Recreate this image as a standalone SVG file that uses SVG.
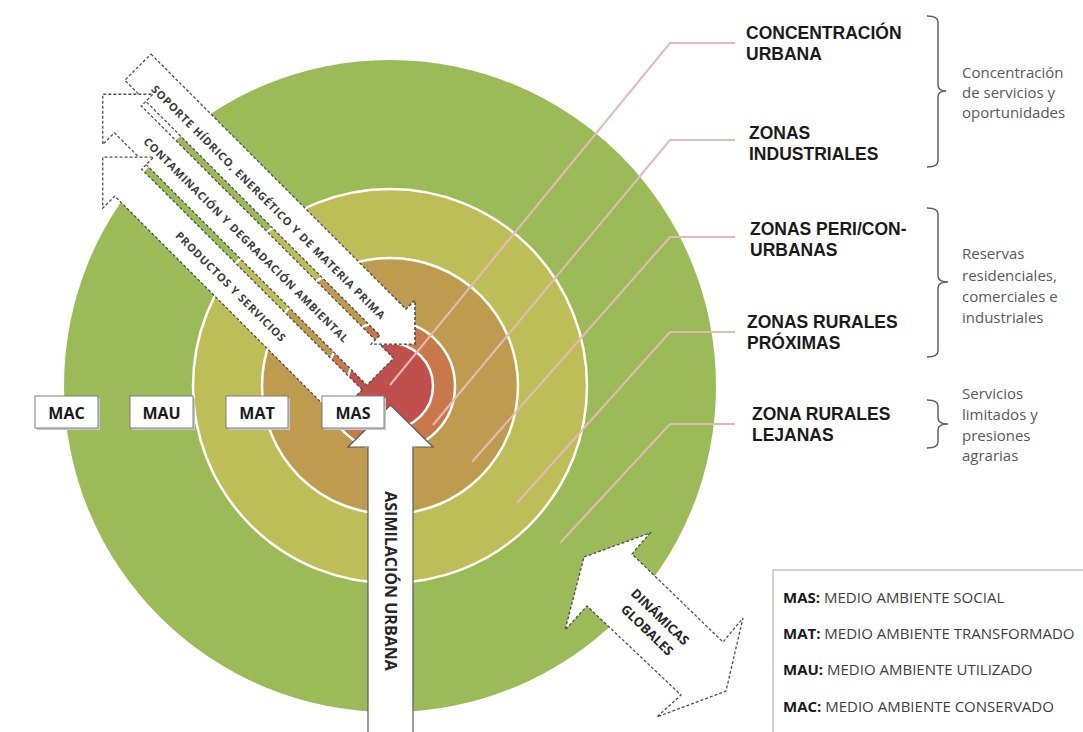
<svg xmlns="http://www.w3.org/2000/svg" width="1083" height="732" viewBox="0 0 1083 732">
<style>
text{font-family:'Open Sans','Liberation Sans',sans-serif}
.lbl{font-family:'Liberation Sans',Arial,sans-serif;font-weight:700;font-size:17.5px;fill:#1a1a1a}
.desc{font-size:15px;fill:#595959}
.bx{fill:#fff;stroke:#7f7f7f;stroke-width:1}
.bxs{fill:#c8c8c8}
.bxt{font-weight:700;font-size:16px;fill:#1a1a1a;text-anchor:middle}
.arr{fill:#fff;stroke:#505050;stroke-width:1.3;stroke-dasharray:3 2;stroke-linejoin:miter}
.atxt{font-weight:700;font-size:11px;fill:#3a3a3a;text-anchor:middle}
.lead{fill:none;stroke:#E6B9B8;stroke-width:2}
.brk{fill:none;stroke:#595959;stroke-width:1.4}
.leg{font-size:15px;fill:#404040}
.legb{font-weight:700;fill:#1a1a1a}
.ring{stroke:#fff;stroke-width:2.5}
</style>

<g id="zones">
  <circle cx="390" cy="386" r="326" fill="#9BBB59"/>
  <circle class="ring" cx="390" cy="386" r="197" fill="#BEBE58"/>
  <circle class="ring" cx="390" cy="386" r="128" fill="#BF9B50"/>
  <circle class="ring" cx="390" cy="386" r="65" fill="#C8784B"/>
  <circle class="ring" cx="390" cy="386" r="43" fill="#C0504D"/>
</g>

<g id="connectors">
  <polyline class="lead" points="390,385 670,43 735,43"/>
  <polyline class="lead" points="433,425 670,140 735,140"/>
  <polyline class="lead" points="472,462 670,237 735,237"/>
  <polyline class="lead" points="517,503 670,332 735,332"/>
  <polyline class="lead" points="560,543 670,424 735,424"/>
</g>

<g id="flows" transform="rotate(45)">
  <g id="flow-soporte">
    <polygon class="arr" points="145,-68.5 505.7,-68.5 505.7,-81 536.7,-50 505.7,-19 505.7,-31.5 145,-31.5"/>
  </g>
  <g id="flow-contaminacion">
    <polygon class="arr" points="531.7,-25 174.8,-25 174.8,-41.5 139.3,-6 174.8,29.5 174.8,13 531.7,13"/>
    <text class="atxt" x="343.6" y="-0.3" textLength="284" lengthAdjust="spacing">CONTAMINACIÓN Y DEGRADACIÓN AMBIENTAL</text>
  </g>
  <g id="flow-productos">
    <polygon class="arr" points="531.7,19.5 219.8,19.5 219.8,2.5 183.8,38.5 219.8,74.5 219.8,57.5 531.7,57.5"/>
    <text class="atxt" x="365.5" y="43.5" textLength="150" lengthAdjust="spacing">PRODUCTOS Y SERVICIOS</text>
  </g>
  <g id="flow-soporte-head">
    <polygon points="490,-68.5 505.7,-68.5 505.7,-81 536.7,-50 505.7,-19 505.7,-31.5 490,-31.5" fill="#fff"/>
    <path class="arr" d="M490,-68.5 H505.7 V-81 L536.7,-50 L505.7,-19 V-31.5 H490" style="fill:none"/>
    <text class="atxt" x="332.5" y="-42.8" textLength="325" lengthAdjust="spacing">SOPORTE HÍDRICO, ENERGÉTICO Y DE MATERIA PRIMA</text>
  </g>
</g>

<g id="asimilacion">
  <polygon points="368,740 368,447 348,447 390.5,405 433,447 413,447 413,740" fill="#fff" stroke="#595959" stroke-width="1.2"/>
  <text transform="translate(390.5,581) rotate(90)" y="5.5" style="font-weight:700;font-size:16px;fill:#262626;text-anchor:middle">ASIMILACIÓN URBANA</text>
</g>

<g id="dinamicas">
  <polygon class="arr" points="584,557 650,533 632,554 723,642 743,618 726,691 657,717 681,695 587,606 565,630"/>
  <text transform="translate(654,623) rotate(44)" style="font-weight:700;font-size:13px;fill:#262626;text-anchor:middle"><tspan x="0" y="-4">DINÁMICAS</tspan><tspan x="0" y="14.4">GLOBALES</tspan></text>
</g>

<g id="box-mac"><rect class="bxs" x="37" y="398" width="63" height="32"/><rect class="bx" x="35" y="396" width="63" height="32"/><text class="bxt" x="66.5" y="418.5">MAC</text></g>
<g id="box-mau"><rect class="bxs" x="132" y="398" width="63" height="32"/><rect class="bx" x="130" y="396" width="63" height="32"/><text class="bxt" x="161.5" y="418.5">MAU</text></g>
<g id="box-mat"><rect class="bxs" x="228" y="398" width="62" height="32"/><rect class="bx" x="226" y="396" width="62" height="32"/><text class="bxt" x="257" y="418.5">MAT</text></g>
<g id="box-mas"><rect class="bxs" x="324" y="398" width="62" height="32"/><rect class="bx" x="322" y="396" width="62" height="32"/><text class="bxt" x="353" y="418.5">MAS</text></g>

<g id="label-concentracion"><text class="lbl"><tspan x="746" y="39">CONCENTRACIÓN</tspan><tspan x="746" y="60">URBANA</tspan></text></g>
<g id="label-industriales"><text class="lbl"><tspan x="749" y="139">ZONAS</tspan><tspan x="749" y="160">INDUSTRIALES</tspan></text></g>
<g id="label-peri"><text class="lbl"><tspan x="750" y="235">ZONAS PERI/CON-</tspan><tspan x="750" y="256">URBANAS</tspan></text></g>
<g id="label-proximas"><text class="lbl"><tspan x="747" y="328">ZONAS RURALES</tspan><tspan x="747" y="349">PRÓXIMAS</tspan></text></g>
<g id="label-lejanas"><text class="lbl"><tspan x="752" y="420">ZONA RURALES</tspan><tspan x="752" y="441">LEJANAS</tspan></text></g>

<g id="group-1">
  <path class="brk" d="M927,16 Q938,16 938,22 V85 Q938,91 946,91 Q938,91 938,97 V161 Q938,167 927,167"/>
  <text class="desc"><tspan x="962" y="78">Concentración</tspan><tspan x="962" y="98">de servicios y</tspan><tspan x="962" y="118">oportunidades</tspan></text>
</g>
<g id="group-2">
  <path class="brk" d="M927,208 Q938,208 938,214 V276 Q938,282 948,282 Q938,282 938,288 V351 Q938,357 927,357"/>
  <text class="desc"><tspan x="962" y="259">Reservas</tspan><tspan x="962" y="281">residenciales,</tspan><tspan x="962" y="302">comerciales  e</tspan><tspan x="962" y="323">industriales</tspan></text>
</g>
<g id="group-3">
  <path class="brk" d="M927,400 Q938,400 938,406 V418 Q938,424 948,424 Q938,424 938,430 V442 Q938,448 927,448"/>
  <text class="desc"><tspan x="962" y="399">Servicios</tspan><tspan x="962" y="420">limitados y</tspan><tspan x="962" y="441">presiones</tspan><tspan x="962" y="461">agrarias</tspan></text>
</g>

<g id="legend">
  <rect x="775" y="572" width="320" height="180" fill="#d0d0d0"/>
  <rect x="773" y="570" width="320" height="180" fill="#fff" stroke="#a6a6a6" stroke-width="1"/>
  <text class="leg" x="783" y="603"><tspan class="legb">MAS:</tspan> MEDIO AMBIENTE SOCIAL</text>
  <text class="leg" x="783" y="639"><tspan class="legb">MAT:</tspan> MEDIO AMBIENTE TRANSFORMADO</text>
  <text class="leg" x="783" y="675"><tspan class="legb">MAU:</tspan> MEDIO AMBIENTE UTILIZADO</text>
  <text class="leg" x="783" y="712"><tspan class="legb">MAC:</tspan> MEDIO AMBIENTE CONSERVADO</text>
</g>
</svg>
